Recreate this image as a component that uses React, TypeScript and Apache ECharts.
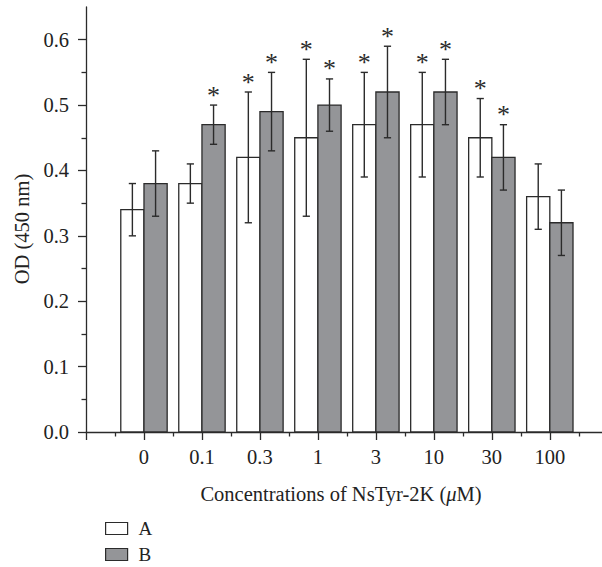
import React, { useEffect, useRef } from "react";
import * as echarts from "echarts";

const categories = ["0", "0.1", "0.3", "1", "3", "10", "30", "100"];
const meanA = [0.34, 0.38, 0.42, 0.45, 0.47, 0.47, 0.45, 0.36];
const errA = [0.04, 0.03, 0.1, 0.12, 0.08, 0.08, 0.06, 0.05];
const sigA = [0, 0, 1, 1, 1, 1, 1, 0];
const meanB = [0.38, 0.47, 0.49, 0.5, 0.52, 0.52, 0.42, 0.32];
const errB = [0.05, 0.03, 0.06, 0.04, 0.07, 0.05, 0.05, 0.05];
const sigB = [0, 1, 1, 1, 1, 1, 1, 0];
const yMajorTicks = [0, 0.1, 0.2, 0.3, 0.4, 0.5, 0.6];
const yMinorTicks = [0.05, 0.15, 0.25, 0.35, 0.45, 0.55];
const xMajorTicks = [-1, 0, 1, 2, 3, 4, 5, 6, 7];
const xMinorTicks = [-0.5, 0.5, 1.5, 2.5, 3.5, 4.5, 5.5, 6.5, 7.5];
const xLabelValues = [0, 1, 2, 3, 4, 5, 6, 7];

const FONT = '"Liberation Serif", "Times New Roman", serif';
const INK = "#2b2b2b";
const GREY = "#949598";
const BAR_W = 0.4;
const FS = 20.5;

function makeRender(side: "A" | "B", fill: string) {
  return (params: any, api: any) => {
    const x = api.value(0);
    const m = api.value(1);
    const e = api.value(2);
    const s = api.value(3);
    const x0 = side === "A" ? x - BAR_W : x;
    const x1 = x0 + BAR_W;
    const bl = api.coord([x0, 0]);
    const tr = api.coord([x1, m]);
    const xc = api.coord([x0 + BAR_W / 2, m])[0];
    const yHi = api.coord([x, m + e])[1];
    const yLo = api.coord([x, m - e])[1];
    const cap = 3.6;
    const lineStyle = { stroke: INK, lineWidth: 1.4 };
    const children: any[] = [
      {
        type: "rect",
        shape: { x: bl[0], y: tr[1], width: tr[0] - bl[0], height: bl[1] - tr[1] },
        style: { fill, stroke: INK, lineWidth: 1.3 },
      },
      { type: "line", shape: { x1: xc, y1: yLo, x2: xc, y2: yHi }, style: lineStyle },
      { type: "line", shape: { x1: xc - cap, y1: yHi, x2: xc + cap, y2: yHi }, style: lineStyle },
      { type: "line", shape: { x1: xc - cap, y1: yLo, x2: xc + cap, y2: yLo }, style: lineStyle },
    ];
    if (s) {
      children.push({
        type: "text",
        x: xc,
        y: yHi - 10,
        style: {
          text: "*",
          fill: INK,
          fontSize: 26,
          fontFamily: FONT,
          align: "center",
          verticalAlign: "middle",
        },
      });
    }
    return { type: "group", children };
  };
}

export default function App() {
  const ref = useRef<HTMLDivElement>(null);
  useEffect(() => {
    if (!ref.current) return;
    const chart = echarts.init(ref.current, undefined, { renderer: "svg" });
    const dataA = categories.map((_, i) => [i, meanA[i], errA[i], sigA[i]]);
    const dataB = categories.map((_, i) => [i, meanB[i], errB[i], sigB[i]]);
    const axisLineStyle = { color: INK, width: 1.3 };
    const legendText = { fontSize: 19, fontFamily: FONT, color: "#222", padding: [0, 0, 0, 6] };
    chart.setOption({
      animation: false,
      backgroundColor: "#ffffff",
      grid: { left: 86, right: 0, top: 7, bottom: 135, containLabel: false },
      xAxis: [
        {
          type: "value",
          min: -1,
          max: 7.9,
          interval: 1,
          position: "bottom",
          axisLine: { show: true, onZero: false, lineStyle: axisLineStyle },
          axisTick: { show: true, length: 8, customValues: xMajorTicks, lineStyle: axisLineStyle },
          axisLabel: {
            customValues: xLabelValues,
            formatter: (v: number) => categories[Math.round(v)] ?? "",
            margin: 14,
            fontSize: FS,
            fontFamily: FONT,
            color: "#222",
          },
          splitLine: { show: false },
        },
        {
          type: "value",
          min: -1,
          max: 7.9,
          interval: 1,
          position: "bottom",
          offset: 0,
          axisLine: { show: false, onZero: false },
          axisTick: { show: true, length: 4.5, customValues: xMinorTicks, lineStyle: axisLineStyle },
          axisLabel: { show: false },
          splitLine: { show: false },
        },
      ],
      yAxis: [
        {
          type: "value",
          min: 0,
          max: 0.65,
          interval: 0.05,
          position: "left",
          axisLine: { show: true, onZero: false, lineStyle: axisLineStyle },
          axisTick: { show: true, length: 8, customValues: yMajorTicks, lineStyle: axisLineStyle },
          axisLabel: {
            customValues: yMajorTicks,
            formatter: (v: number) => v.toFixed(1),
            margin: 17,
            fontSize: FS,
            fontFamily: FONT,
            color: "#222",
          },
          splitLine: { show: false },
        },
        {
          type: "value",
          min: 0,
          max: 0.65,
          interval: 0.05,
          position: "left",
          offset: 0,
          axisLine: { show: false, onZero: false },
          axisTick: { show: true, length: 4.5, customValues: yMinorTicks, lineStyle: axisLineStyle },
          axisLabel: { show: false },
          splitLine: { show: false },
        },
      ],
      legend: [
        {
          orient: "vertical",
          left: 100,
          top: 514,
          itemWidth: 22,
          itemHeight: 12,
          textStyle: legendText,
          data: [
            { name: "A", icon: "rect", itemStyle: { color: "#ffffff", borderColor: INK, borderWidth: 1.2 } },
          ],
        },
        {
          orient: "vertical",
          left: 100,
          top: 540,
          itemWidth: 22,
          itemHeight: 12,
          textStyle: legendText,
          data: [
            { name: "B", icon: "rect", itemStyle: { color: GREY, borderColor: INK, borderWidth: 1.2 } },
          ],
        },
      ],
      graphic: [
        {
          type: "text",
          x: 22,
          y: 229,
          rotation: Math.PI / 2,
          style: {
            text: "OD (450 nm)",
            fontSize: FS,
            fontFamily: FONT,
            fill: "#222",
            align: "center",
            verticalAlign: "middle",
          },
        },
        {
          type: "text",
          x: 341,
          y: 494,
          style: {
            text: "Concentrations of NsTyr-2K ({i|μ}M)",
            fontSize: FS,
            fontFamily: FONT,
            fill: "#222",
            align: "center",
            verticalAlign: "middle",
            rich: { i: { fontStyle: "italic", fontSize: FS, fontFamily: FONT, fill: "#222" } },
          },
        },
      ],
      series: [
        {
          type: "custom",
          name: "A",
          xAxisIndex: 0,
          yAxisIndex: 0,
          renderItem: makeRender("A", "#ffffff"),
          itemStyle: { color: "#ffffff", borderColor: INK },
          encode: { x: 0, y: 1 },
          data: dataA,
        },
        {
          type: "custom",
          name: "B",
          xAxisIndex: 0,
          yAxisIndex: 0,
          renderItem: makeRender("B", GREY),
          itemStyle: { color: GREY, borderColor: INK },
          encode: { x: 0, y: 1 },
          data: dataB,
        },
      ],
    });
    return () => chart.dispose();
  }, []);
  return (
    <div
      ref={ref}
      style={{ position: "absolute", left: 0, top: 0, width: 602, height: 567, background: "#fff" }}
    />
  );
}
